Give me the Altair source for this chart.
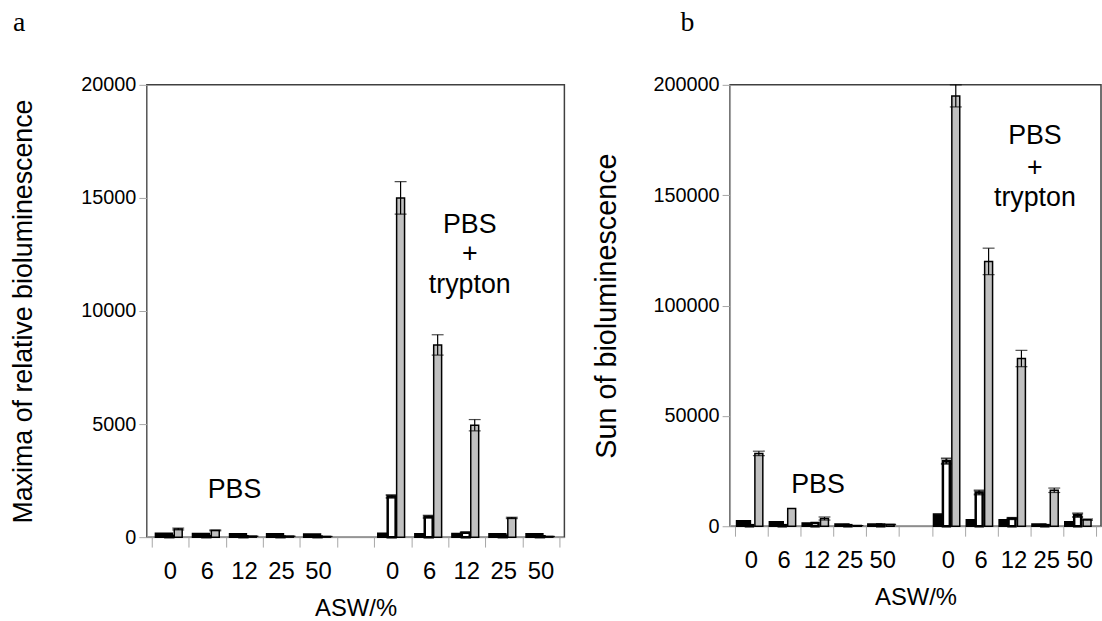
import altair as alt
import pandas as pd

# ---- categories -------------------------------------------------------------
asw_levels = ["0", "6", "12", "25", "50"]
groups = ["PBS", "PBS+trypton"]
# slot index of every group/ASW pair on the x axis (slot 5 is left empty)
slot_index = {("PBS", a): i for i, a in enumerate(asw_levels)}
slot_index.update({("PBS+trypton", a): i + 6 for i, a in enumerate(asw_levels)})
N_SLOTS = 11

# ---- panel a: maxima of relative bioluminescence ---------------------------
a_black_pbs = [170, 160, 150, 150, 140]
a_white_pbs = [60, 50, 40, 30, 30]
a_grey_pbs = [360, 300, 40, 40, 30]
a_grey_pbs_err = [40, 20, 5, 5, 5]
a_black_try = [170, 150, 160, 150, 150]
a_white_try = [1800, 900, 200, 60, 40]
a_white_try_err = [60, 50, 10, 5, 5]
a_grey_try = [15000, 8500, 4950, 850, 30]
a_grey_try_err = [720, 450, 250, 30, 5]

# ---- panel b: sum of bioluminescence ----------------------------------------
b_black_pbs = [2500, 2000, 1500, 1000, 1000]
b_white_pbs = [500, 500, 1500, 500, 800]
b_grey_pbs = [33000, 8000, 3500, 300, 800]
b_grey_pbs_err = [1000, 0, 700, 50, 100]
b_black_try = [5500, 3000, 3000, 1000, 2000]
b_white_try = [29500, 15300, 3500, 500, 5000]
b_white_try_err = [1200, 900, 300, 100, 800]
b_grey_try = [195000, 120000, 76000, 16300, 3000]
b_grey_try_err = [5000, 6000, 3700, 1000, 300]


def long_table(black_p, white_p, grey_p, grey_p_err,
               black_t, white_t, white_t_err, grey_t, grey_t_err):
    rows = []
    for i, a in enumerate(asw_levels):
        sp = slot_index[("PBS", a)] + 0.5
        st = slot_index[("PBS+trypton", a)] + 0.5
        rows += [
            (sp, "black", black_p[i], 0),
            (sp, "white", white_p[i], 0),
            (sp, "grey", grey_p[i], grey_p_err[i]),
            (st, "black", black_t[i], 0),
            (st, "white", white_t[i], white_t_err[i]),
            (st, "grey", grey_t[i], grey_t_err[i]),
        ]
    return pd.DataFrame(rows, columns=["slot", "series", "value", "err"])


df_a = long_table(a_black_pbs, a_white_pbs, a_grey_pbs, a_grey_pbs_err,
                  a_black_try, a_white_try, a_white_try_err, a_grey_try, a_grey_try_err)
df_b = long_table(b_black_pbs, b_white_pbs, b_grey_pbs, b_grey_pbs_err,
                  b_black_try, b_white_try, b_white_try_err, b_grey_try, b_grey_try_err)

# tick labels under each slot centre
label_df = pd.DataFrame(
    [(slot_index[(g, a)] + 0.5, a) for g in groups for a in asw_levels],
    columns=["slot", "label"],
)

FONT = "Liberation Sans"
AXIS_GREY = "#a6a6a6"

# per-series bar geometry inside each slot: (fill, pixel width, pixel offset, stroke width)
GEOM_A = {"black": ("#000000", 17, -6.5, 1.5),
          "white": ("#ffffff", 8, -1, 2.5),
          "grey": ("#c0c0c0", 8, 8, 1.5)}
GEOM_B = {"black": ("#000000", 14, -8, 1.5),
          "white": ("#ffffff", 7, -2, 2.5),
          "grey": ("#c0c0c0", 8, 7.5, 1.5)}


def panel(df, ymax, ystep, ytitle, ytitle_size, letter, letter_xy, width, height,
          geom, y_title_pad, notes):
    x_scale = alt.Scale(domain=[0, N_SLOTS], nice=False, zero=False)
    x_axis = alt.Axis(
        title="ASW/%",
        values=list(range(0, N_SLOTS + 1)),
        labels=False,
        tickSize=10,
        titleFontSize=24,
        titlePadding=49,
    )
    y_axis = alt.Axis(
        title=ytitle,
        values=list(range(0, ymax + 1, ystep)),
        format="d",
        tickSize=8,
        labelFontSize=20,
        labelPadding=3,
        titleFontSize=ytitle_size,
        titlePadding=y_title_pad,
    )
    y_scale = alt.Scale(domain=[0, ymax], nice=False)

    def X(field):
        return alt.X(field, type="quantitative", scale=x_scale, axis=x_axis)

    def Y(field):
        return alt.Y(field, type="quantitative", scale=y_scale, axis=y_axis)

    base = alt.Chart(df)
    layers = []
    for s in ["black", "white", "grey"]:
        fill, w, off, sw = geom[s]
        sub = base.transform_filter(alt.datum.series == s)
        layers.append(
            sub.mark_bar(width=w, xOffset=off, fill=fill, stroke="#000000",
                         strokeWidth=sw).encode(x=X("slot"), y=Y("value"))
        )
        if s != "black":
            err = sub.transform_filter(alt.datum.err > 0).transform_calculate(
                lo="datum.value - datum.err", hi="datum.value + datum.err"
            )
            lw = 1.2 if s == "grey" else 2.0
            layers.append(
                err.mark_rule(xOffset=off, color="#000000", strokeWidth=lw).encode(
                    x=X("slot"), y=Y("lo"), y2="hi:Q"
                )
            )
            for end in ["lo", "hi"]:
                layers.append(
                    err.mark_tick(xOffset=off, color="#000000", size=w + 4,
                                  thickness=lw, orient="horizontal").encode(
                        x=X("slot"), y=Y(end)
                    )
                )

    # ASW level labels below the axis
    layers.append(
        alt.Chart(label_df).mark_text(font=FONT, fontSize=24, color="#000000",
                                      baseline="top").encode(
            x=X("slot"), y=alt.value(height + 23), text="label:N"
        )
    )

    # text annotations, one layer per horizontal nudge
    for dx in sorted(set(n[3] for n in notes)):
        rows = [n[:3] for n in notes if n[3] == dx]
        note_df = pd.DataFrame(rows, columns=["slot", "ypos", "text"])
        layers.append(
            alt.Chart(note_df).mark_text(font=FONT, fontSize=27, color="#000000",
                                         baseline="middle", dx=dx).encode(
                x=X("slot"), y=Y("ypos"), text="text:N"
            )
        )

    # panel letter
    layers.append(
        alt.Chart(pd.DataFrame({"t": [letter]})).mark_text(
            font="Liberation Serif", fontSize=28, color="#000000",
            align="left", baseline="alphabetic",
        ).encode(x=alt.value(letter_xy[0]), y=alt.value(letter_xy[1]), text="t:N")
    )

    return alt.layer(*layers).properties(width=width, height=height)


notes_a = [
    (2.5, 2100, "PBS", -10),
    (8.5, 13800, "PBS", 3),
    (8.5, 12500, "+", 3),
    (8.5, 11150, "trypton", 3),
]
notes_b = [
    (2.5, 18500, "PBS", 1),
    (9.5, 177000, "PBS", -12),
    (9.5, 162500, "+", -12),
    (9.5, 148500, "trypton", -12),
]

chart_a = panel(df_a, 20000, 5000, "Maxima of relative bioluminescence", 27, "a",
                (-135, -54), 421, 456, GEOM_A, 44, notes_a)
chart_b = panel(df_b, 200000, 50000, "Sun of bioluminescence", 29, "b",
                (-50, -54), 374, 445, GEOM_B, 32, notes_b)

chart = alt.hconcat(chart_a, chart_b, spacing=26).properties(
    padding={"left": 8, "top": 6, "right": 0, "bottom": 0},
    background="#ffffff",
).configure_view(
    stroke="#404040", strokeWidth=1.5
).configure_axis(
    domainColor=AXIS_GREY, tickColor=AXIS_GREY, grid=False,
    labelFont=FONT, labelColor="#000000",
    titleFont=FONT, titleFontWeight="normal", titleColor="#000000",
)

chart.save("out.html", embed_options={"renderer": "svg", "actions": False})
